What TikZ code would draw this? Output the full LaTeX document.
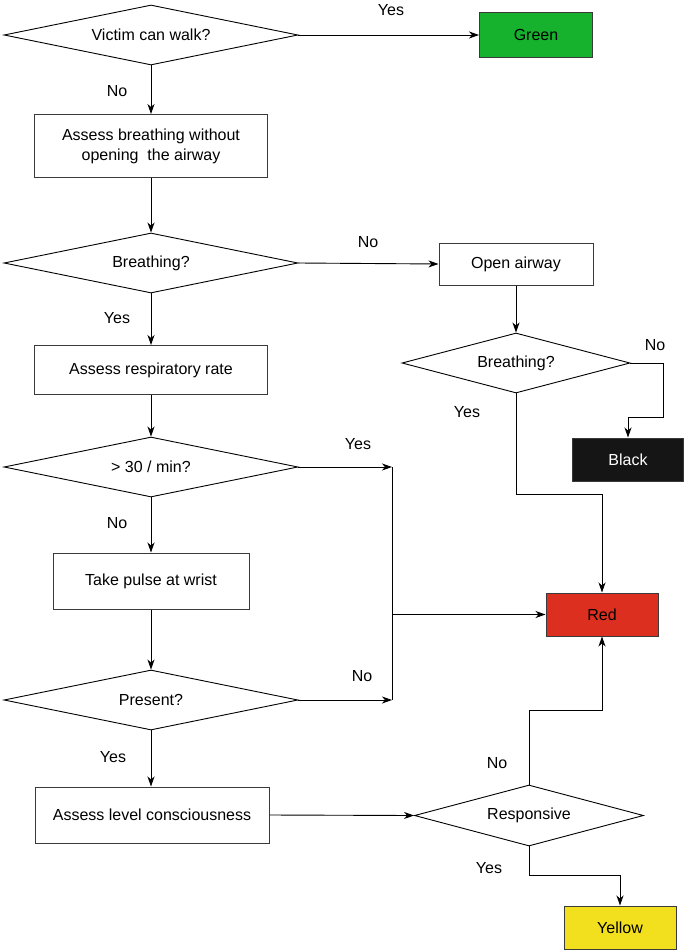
\documentclass[tikz,border=0pt]{standalone}
\usepackage{fontspec}
\setmainfont{Liberation Sans}
\usetikzlibrary{shapes.geometric,arrows.meta}
\definecolor{gfill}{HTML}{17B22D}
\definecolor{rfill}{HTML}{DC2F1F}
\definecolor{yfill}{HTML}{F2E01E}
\definecolor{kfill}{HTML}{151515}
\definecolor{edge}{HTML}{3A3A3A}
\begin{document}
\begin{tikzpicture}[x=1pt,y=-1pt,
  every node/.style={font=\fontsize{16}{20}\selectfont},
  box/.style={draw=edge,line width=1pt,rectangle,inner sep=2pt,align=center},
  dec/.style={draw=black,line width=0.9pt,diamond,aspect=4.9,inner sep=0pt,minimum width=294pt,minimum height=60pt},
  conn/.style={line width=0.9pt,draw=black},
  arr/.style={conn,-{Stealth[length=10pt,width=7pt,inset=3pt]}},
  lbl/.style={inner sep=0pt}]
\useasboundingbox (0,0) rectangle (685,950);
\fill[white] (0,0) rectangle (685,950);

% nodes
\node[dec] (d1) at (151,35) {Victim can walk?};
\node[box,fill=gfill,minimum width=113pt,minimum height=45pt] (green) at (536,35) {Green};
\node[box,minimum width=233pt,minimum height=63pt] (b1) at (151,146) {Assess breathing without\\opening\ \ the airway};
\node[dec] (d2) at (151,263) {Breathing?};
\node[box,minimum width=154pt,minimum height=42pt] (open) at (516,264) {Open airway};
\node[box,minimum width=233pt,minimum height=49pt] (resp) at (151,370) {Assess respiratory rate};
\node[dec,minimum width=228pt] (d3) at (516,363) {Breathing?};
\node[box,fill=kfill,text=white,minimum width=111pt,minimum height=43pt] (black) at (628,459.5) {Black};
\node[dec] (d4) at (151,467) {> 30 / min?};
\node[box,fill=rfill,minimum width=112pt,minimum height=43pt] (red) at (602,614.5) {Red};
\node[box,minimum width=196pt,minimum height=56pt] (pulse) at (151,581) {Take pulse at wrist};
\node[dec] (d5) at (151,700) {Present?};
\node[box,minimum width=234pt,minimum height=56pt] (cons) at (152,815) {Assess level consciousness};
\node[dec,minimum width=229pt,minimum height=61pt] (d6) at (529,815.5) {Responsive};
\node[box,fill=yfill,minimum width=112pt,minimum height=43pt] (yellow) at (620,927.5) {Yellow};

% labels
\node[lbl] (l1) at (391,10) {Yes};
\node[lbl] (l2) at (117,91) {No};
\node[lbl] (l3) at (368,242) {No};
\node[lbl] (l4) at (117,318) {Yes};
\node[lbl] (l5) at (655,345) {No};
\node[lbl] (l6) at (467,412) {Yes};
\node[lbl] (l7) at (358,444) {Yes};
\node[lbl] (l8) at (117,523) {No};
\node[lbl] (l9) at (362,676) {No};
\node[lbl] (l10) at (113,757) {Yes};
\node[lbl] (l11) at (497,763) {No};
\node[lbl] (l12) at (489,868) {Yes};

% helper coordinates
\coordinate (c1) at (663,417);
\coordinate (c2) at (602,494);
\coordinate (j1) at (392,467);
\coordinate (j2) at (392,700);
\coordinate (c3) at (602,710);
\coordinate (c4) at (620,875);

% connectors
\draw[arr] (d1.east) -- (green.west);
\draw[arr] (d1.south) -- (b1.north);
\draw[arr] (b1.south) -- (d2.north);
\draw[arr] (d2.east) -- (open.west);
\draw[arr] (d2.south) -- (resp.north);
\draw[arr] (open.south) -- (d3.north);
\draw[arr] (d3.east) -| (c1) -| (black.north);
\draw[arr] (d3.south) |- (c2) -- (red.north);
\draw[arr] (resp.south) -- (d4.north);
\draw[arr] (d4.east) -- (j1);
\draw[arr] (d5.east) -- (j2);
\draw[conn] (j1) -- (j2);
\draw[arr] (j1 |- red.west) -- (red.west);
\draw[arr] (d4.south) -- (pulse.north);
\draw[arr] (pulse.south) -- (d5.north);
\draw[arr] (d5.south) -- (d5.south |- cons.north);
\draw[arr] (cons.east) -- (d6.west);
\draw[arr] (d6.north) |- (c3) -- (red.south);
\draw[arr] (d6.south) |- (c4) -- (yellow.north);
\end{tikzpicture}
\end{document}
